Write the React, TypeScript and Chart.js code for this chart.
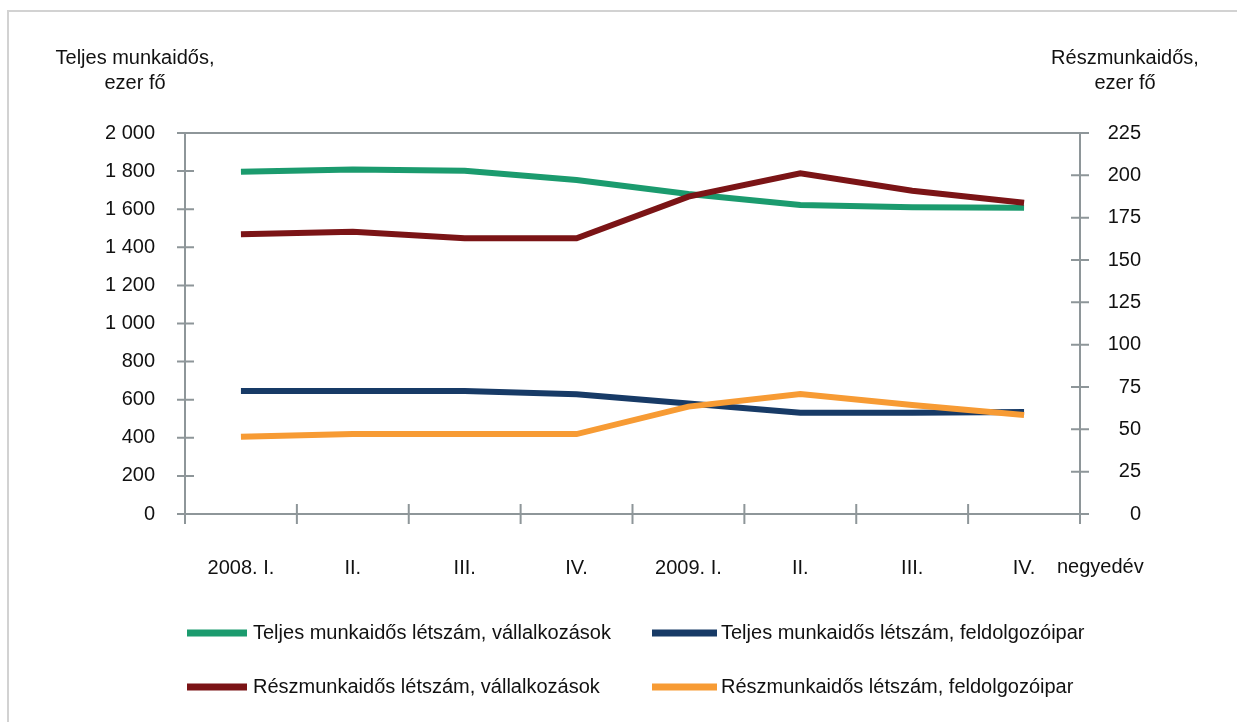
import React, { useEffect, useRef } from 'react';
import { Chart, registerables } from 'chart.js';

Chart.register(...registerables);

const categories = ['2008. I.', 'II.', 'III.', 'IV.', '2009. I.', 'II.', 'III.', 'IV.'];
const fullTimeEnterprises = [1797, 1809, 1802, 1753, 1680, 1622, 1610, 1608];
const fullTimeManufacturing = [646, 646, 646, 628, 580, 532, 532, 535];
const partTimeEnterprises = [165.2, 166.7, 162.8, 162.8, 187.4, 201.2, 190.9, 183.8];
const partTimeManufacturing = [45.6, 47.2, 47.2, 47.2, 63.4, 70.9, 64.4, 58.5];

const seriesLabels = [
  'Teljes munkaidős létszám, vállalkozások',
  'Teljes munkaidős létszám, feldolgozóipar',
  'Részmunkaidős létszám, vállalkozások',
  'Részmunkaidős létszám, feldolgozóipar',
];
const seriesColors = ['#1b9b6e', '#173a66', '#7b1416', '#f79b34'];

const leftTitle = ['Teljes munkaidős,', 'ezer fő'];
const rightTitle = ['Részmunkaidős,', 'ezer fő'];
const xUnit = 'negyedév';

const FONT = "'Liberation Sans', Arial, sans-serif";
const FS = 20;
const AXIS = '#8e9699';

const fmt = (v: number) => {
  if (v >= 1000) return `${Math.floor(v / 1000)} ${String(v % 1000).padStart(3, '0')}`;
  return String(v);
};

const decorPlugin = {
  id: 'decor',
  beforeDatasetsDraw(chart: any) {
    const { ctx, chartArea } = chart;
    const { left, right, top, bottom } = chartArea;
    const y = chart.scales.y;
    const y1 = chart.scales.y1;
    const x = chart.scales.x;
    ctx.save();
    // frame
    ctx.strokeStyle = '#d2d2d2';
    ctx.lineWidth = 2;
    ctx.beginPath();
    ctx.moveTo(8, 722);
    ctx.lineTo(8, 11);
    ctx.lineTo(1237, 11);
    ctx.stroke();

    ctx.strokeStyle = AXIS;
    ctx.lineWidth = 2;
    ctx.beginPath();
    ctx.moveTo(left - 8, top);
    ctx.lineTo(right + 9, top);
    ctx.moveTo(left - 8, bottom);
    ctx.lineTo(right + 9, bottom);
    ctx.moveTo(left, top);
    ctx.lineTo(left, bottom + 10);
    ctx.moveTo(right, top);
    ctx.lineTo(right, bottom + 10);
    y.ticks.forEach((t: any) => {
      const py = y.getPixelForValue(t.value);
      ctx.moveTo(left - 8, py);
      ctx.lineTo(left + 9, py);
    });
    y1.ticks.forEach((t: any) => {
      const py = y1.getPixelForValue(t.value);
      ctx.moveTo(right - 9, py);
      ctx.lineTo(right + 9, py);
    });
    for (let i = 1; i < categories.length; i++) {
      const px = (x.getPixelForValue(i - 1) + x.getPixelForValue(i)) / 2;
      ctx.moveTo(px, bottom - 10);
      ctx.lineTo(px, bottom + 10);
    }
    ctx.stroke();
    ctx.restore();
  },
  afterDraw(chart: any) {
    const { ctx, chartArea } = chart;
    const { left, right, top, bottom } = chartArea;
    ctx.save();
    ctx.fillStyle = '#111';
    ctx.font = `${FS}px ${FONT}`;
    ctx.textAlign = 'center';
    ctx.textBaseline = 'middle';
    ctx.fillText(leftTitle[0], left - 50, top - 75);
    ctx.fillText(leftTitle[1], left - 50, top - 50);
    ctx.fillText(rightTitle[0], right + 45, top - 75);
    ctx.fillText(rightTitle[1], right + 45, top - 50);
    ctx.textAlign = 'left';
    ctx.fillText(xUnit, right - 23, bottom + 53);

    // legend
    const cols = [{ sx: 187, ex: 247, tx: 253 }, { sx: 652, ex: 717, tx: 721 }];
    const rows = [633, 687];
    seriesLabels.forEach((lab, i) => {
      const c = cols[i % 2];
      const ry = rows[Math.floor(i / 2)];
      ctx.strokeStyle = seriesColors[i];
      ctx.lineWidth = 7;
      ctx.beginPath();
      ctx.moveTo(c.sx, ry);
      ctx.lineTo(c.ex, ry);
      ctx.stroke();
      ctx.fillStyle = '#111';
      ctx.fillText(lab, c.tx, ry);
    });
    ctx.restore();
  },
};

export default function App() {
  const ref = useRef<HTMLCanvasElement | null>(null);
  useEffect(() => {
    if (!ref.current) return;
    const mk = (idx: number, data: number[], axis: string) => ({
      label: seriesLabels[idx],
      data,
      yAxisID: axis,
      borderColor: seriesColors[idx],
      backgroundColor: seriesColors[idx],
      borderWidth: 6,
      pointRadius: 0,
      tension: 0,
      fill: false,
    });
    const chart = new Chart(ref.current, {
      type: 'line',
      data: {
        labels: categories,
        datasets: [
          mk(2, partTimeEnterprises, 'y1'),
          mk(3, partTimeManufacturing, 'y1'),
          mk(0, fullTimeEnterprises, 'y'),
          mk(1, fullTimeManufacturing, 'y'),
        ],
      },
      options: {
        responsive: false,
        animation: false,
        devicePixelRatio: 1,
        layout: { padding: { top: 133, left: 0, right: 96, bottom: 0 } },
        plugins: { legend: { display: false }, tooltip: { enabled: false } },
        scales: {
          x: {
            type: 'category',
            offset: true,
            grid: { display: false, drawTicks: false, offset: true },
            border: { display: false },
            ticks: { padding: 42, color: '#111', font: { family: FONT, size: FS }, maxRotation: 0, autoSkip: false },
            afterFit: (s: any) => { s.height = 208; },
          },
          y: {
            position: 'left',
            min: 0,
            max: 2000,
            grid: { display: false, drawTicks: false },
            border: { display: false },
            ticks: { stepSize: 200, padding: 30, color: '#111', font: { family: FONT, size: FS }, callback: (v: any) => fmt(Number(v)) },
            afterFit: (s: any) => { s.width = 185; },
          },
          y1: {
            position: 'right',
            min: 0,
            max: 225,
            grid: { display: false, drawTicks: false },
            border: { display: false },
            ticks: { stepSize: 25, padding: 20, crossAlign: 'far', color: '#111', font: { family: FONT, size: FS } },
            afterFit: (s: any) => { s.width = 61; },
          },
        },
      } as any,
      plugins: [decorPlugin],
    });
    return () => chart.destroy();
  }, []);
  return (
    <div style={{ position: 'absolute', left: 0, top: 0, width: 1237, height: 722, background: '#fff' }}>
      <canvas ref={ref} width={1237} height={722} style={{ display: 'block', width: 1237, height: 722 }} />
    </div>
  );
}
